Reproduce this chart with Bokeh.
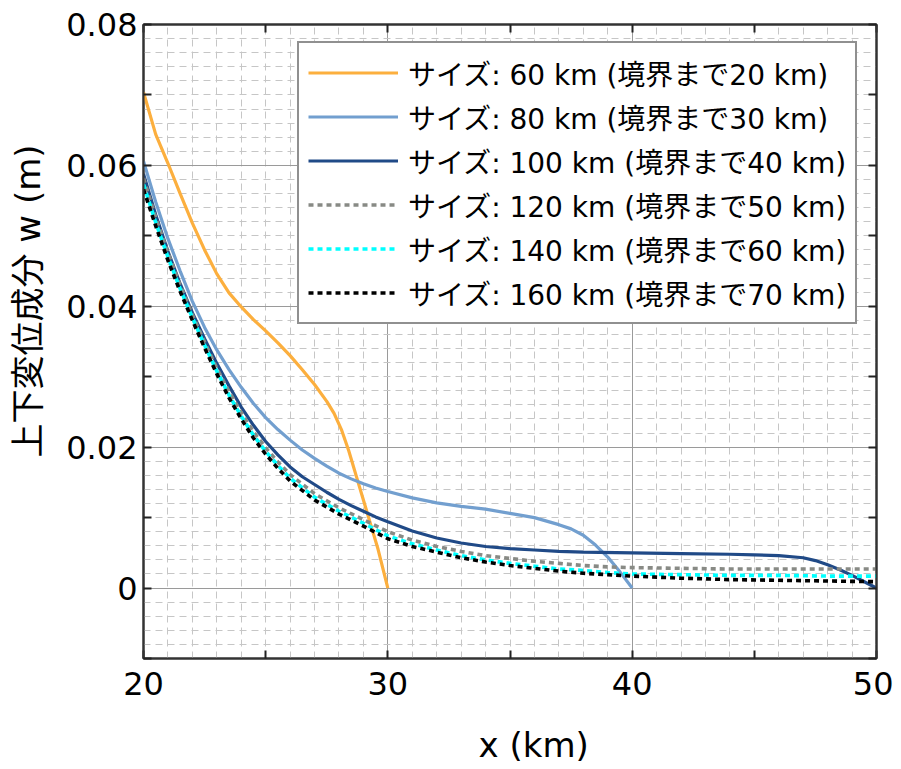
from bokeh.plotting import figure
from bokeh.models import (Range1d, FixedTicker, LinearAxis, Legend, LegendItem,
                          Title, NumeralTickFormatter, CustomJSTickFormatter)
from bokeh.embed import file_html
from bokeh.resources import INLINE

# ---------------- data ----------------
x_60 = [20, 20.5, 21, 21.5, 22, 22.5, 23, 23.5, 24, 24.5, 25, 25.5, 26, 26.5, 27,
        27.5, 27.8, 28.1, 28.4, 28.7, 29.0, 29.3, 29.6, 30.0]
w_60 = [0.0704, 0.0644, 0.0603, 0.0560, 0.0518, 0.0480, 0.0446, 0.0419, 0.0399, 0.0381,
        0.0365, 0.0348, 0.0330, 0.0310, 0.0289, 0.0265, 0.0248, 0.0225, 0.0195, 0.0160,
        0.0125, 0.0090, 0.0055, 0.0]

x_80 = [20, 20.5, 21, 21.5, 22, 22.5, 23, 23.5, 24, 24.5, 25, 25.5, 26, 26.5, 27, 27.5,
        28, 28.5, 29, 29.5, 30, 31, 32, 33, 34, 35, 36, 37, 37.5, 38, 38.5, 39, 39.5, 40]
w_80 = [0.0606, 0.0548, 0.0496, 0.0450, 0.0407, 0.0370, 0.0338, 0.0310, 0.0285, 0.0262,
        0.0242, 0.0225, 0.0210, 0.0196, 0.0184, 0.0173, 0.0163, 0.0155, 0.0148, 0.0142,
        0.0137, 0.0128, 0.0121, 0.0116, 0.0112, 0.0106, 0.0100, 0.0090, 0.0084, 0.0075,
        0.0061, 0.0044, 0.0023, 0.0]

x_100 = [20, 20.5, 21, 21.5, 22, 22.5, 23, 23.5, 24, 24.5, 25, 25.5, 26, 26.5, 27, 27.5,
         28, 28.5, 29, 29.5, 30, 31, 32, 33, 34, 35, 36, 37, 38, 40, 42, 44, 45, 46, 47,
         47.5, 48, 48.5, 49, 49.5, 50]
w_100 = [0.0588, 0.0530, 0.0478, 0.0432, 0.0391, 0.0354, 0.0319, 0.0287, 0.0257, 0.0231,
         0.0208, 0.0189, 0.0172, 0.0158, 0.0147, 0.0136, 0.0126, 0.0117, 0.0109, 0.0101,
         0.0094, 0.0081, 0.0071, 0.0064, 0.0059, 0.0056, 0.0054, 0.0052, 0.0051, 0.0050,
         0.0049, 0.0048, 0.0047, 0.0046, 0.0043, 0.0039, 0.0033, 0.0026, 0.0018, 0.0009, 0.0]

x_far = [20, 20.5, 21, 21.5, 22, 22.5, 23, 23.5, 24, 24.5, 25, 25.5, 26, 27, 28, 29, 30,
         31, 32, 33, 34, 35, 36, 37, 38, 39, 40, 42, 44, 46, 48, 50]
w_120 = [0.0582, 0.0526, 0.0476, 0.0430, 0.0388, 0.0349, 0.0312, 0.0279, 0.0249, 0.0222,
         0.0199, 0.0179, 0.0161, 0.0134, 0.0114, 0.0097, 0.0080, 0.0068, 0.0059, 0.0052,
         0.0046, 0.0042, 0.0038, 0.0035, 0.0032, 0.0030, 0.0029, 0.0028, 0.0027, 0.0027,
         0.0027, 0.0027]
w_140 = [0.0573, 0.0519, 0.0470, 0.0425, 0.0384, 0.0345, 0.0308, 0.0274, 0.0244, 0.0217,
         0.0194, 0.0174, 0.0156, 0.0129, 0.0109, 0.0092, 0.0074, 0.0063, 0.0054, 0.0046,
         0.0040, 0.0035, 0.0031, 0.0027, 0.0025, 0.0022, 0.0020, 0.0019, 0.0018, 0.0018,
         0.0017, 0.0017]
w_160 = [0.0566, 0.0514, 0.0465, 0.0421, 0.0380, 0.0341, 0.0304, 0.0270, 0.0240, 0.0213,
         0.0190, 0.0170, 0.0152, 0.0125, 0.0105, 0.0088, 0.0070, 0.0059, 0.0051, 0.0043,
         0.0037, 0.0032, 0.0028, 0.0024, 0.0021, 0.0019, 0.0017, 0.0014, 0.0012, 0.0011,
         0.0010, 0.0009]

labels = ["サイズ: 60 km (境界まで20 km)", "サイズ: 80 km (境界まで30 km)",
          "サイズ: 100 km (境界まで40 km)", "サイズ: 120 km (境界まで50 km)",
          "サイズ: 140 km (境界まで60 km)", "サイズ: 160 km (境界まで70 km)"]

x_major = [20, 30, 40, 50]
x_minor = [25, 35, 45]
y_major = [0, 0.02, 0.04, 0.06, 0.08]
y_minor = [-0.01, 0.01, 0.03, 0.05, 0.07]

x_title = "x (km)"
y_title = "上下変位成分 w (m)"

FONT = "DejaVu Sans, Noto Sans CJK JP"

# ---------------- figure ----------------
p = figure(frame_width=733, frame_height=634,
           x_range=Range1d(20, 50), y_range=Range1d(-0.01, 0.08),
           output_backend="svg", toolbar_location=None,
           min_border_left=143, min_border_right=17, min_border_top=24,
           min_border_bottom=100)
p.background_fill_color = "white"
p.border_fill_color = "white"
p.outline_line_color = "#333333"
p.outline_line_width = 2

# grids
gx_minor = [v for v in range(21, 50) if v not in (30, 40)]
gy_minor = [round(-0.01 + 0.002 * i, 3) for i in range(46)]
gy_minor = [v for v in gy_minor if abs(v * 50 - round(v * 50)) > 1e-6]
p.xgrid.ticker = FixedTicker(ticks=[30, 40], minor_ticks=gx_minor)
p.ygrid.ticker = FixedTicker(ticks=[0, 0.02, 0.04, 0.06], minor_ticks=gy_minor)
for g in (p.xgrid, p.ygrid):
    g.grid_line_color = "#9a9a9a"
    g.grid_line_width = 1
    g.minor_grid_line_color = "#c6c6c6"
    g.minor_grid_line_width = 1
    g.minor_grid_line_dash = "7 5"

xt = FixedTicker(ticks=x_major, minor_ticks=x_minor)
yt = FixedTicker(ticks=y_major, minor_ticks=y_minor)


def style_axis(ax, show):
    ax.axis_line_color = "#333333"
    ax.axis_line_width = 2
    ax.major_tick_in = 8
    ax.major_tick_out = 0
    ax.minor_tick_in = 8
    ax.minor_tick_out = 0
    ax.major_tick_line_color = "#222222"
    ax.minor_tick_line_color = "#222222"
    ax.major_tick_line_width = 2
    ax.minor_tick_line_width = 2
    if show:
        ax.major_label_text_font = FONT
        ax.major_label_text_font_size = "32px"
        ax.major_label_text_color = "black"
    else:
        ax.formatter = CustomJSTickFormatter(code="return '';")
        ax.major_label_standoff = 0


def spacer(n, pos):
    # a blank axis (white tick outside the frame) that only reserves n pixels
    return LinearAxis(ticker=FixedTicker(ticks=[pos]),
                      formatter=CustomJSTickFormatter(code="return '';"),
                      axis_line_color=None, major_tick_line_color="white",
                      minor_tick_line_color=None, major_tick_in=0,
                      major_tick_out=n, minor_tick_in=0, minor_tick_out=0,
                      major_label_standoff=0)


p.xaxis.ticker = xt
p.yaxis.ticker = yt
p.yaxis.formatter = NumeralTickFormatter(format="0.[00]")
style_axis(p.xaxis[0], True)
style_axis(p.yaxis[0], True)
p.xaxis.major_label_standoff = 13
p.yaxis.major_label_standoff = 6

top = LinearAxis(ticker=xt)
right = LinearAxis(ticker=yt)
style_axis(top, False)
style_axis(right, False)
p.add_layout(top, "above")
p.add_layout(right, "right")

# ---------------- curves ----------------
series = [
    (x_60, w_60, "#fcaf3e", None),
    (x_80, w_80, "#729fcf", None),
    (x_100, w_100, "#204a87", None),
    (x_far, w_120, "#888a85", "5 4"),
    (x_far, w_140, "#00ffff", "5 4"),
    (x_far, w_160, "#000000", "5 4"),
]
items = []
for (xs, ys, col, dash), lab in zip(series, labels):
    kw = dict(line_color=col, line_width=3.2)
    if dash:
        kw["line_dash"] = dash
        kw["line_width"] = 3.6
    r = p.line(xs, ys, **kw)
    items.append(LegendItem(label=lab, renderers=[r]))

legend = Legend(items=items, location=(154, 334))
legend.border_line_color = "#222222"
legend.border_line_width = 2
legend.background_fill_color = "white"
legend.background_fill_alpha = 1
legend.label_text_font = FONT
legend.label_text_font_size = "28px"
legend.label_text_color = "black"
legend.glyph_width = 90
legend.glyph_height = 41
legend.label_height = 41
legend.spacing = 3
legend.padding = 9
legend.label_standoff = 10
p.add_layout(legend, "center")

# axis titles (side titles, offset along the axis like the reference)
p.add_layout(spacer(16, -0.005), "left")
yt_title = Title(text=y_title, align="left", offset=201, standoff=0,
                 text_font=FONT, text_font_size="34px", text_font_style="normal",
                 text_color="black")
p.add_layout(yt_title, "left")

p.add_layout(spacer(25, 20.5), "below")
xt_title = Title(text=x_title, align="left", offset=335, standoff=0,
                 text_font=FONT, text_font_size="34px", text_font_style="normal",
                 text_color="black")
p.add_layout(xt_title, "below")

open("out.html", "w").write(file_html(p, INLINE))
